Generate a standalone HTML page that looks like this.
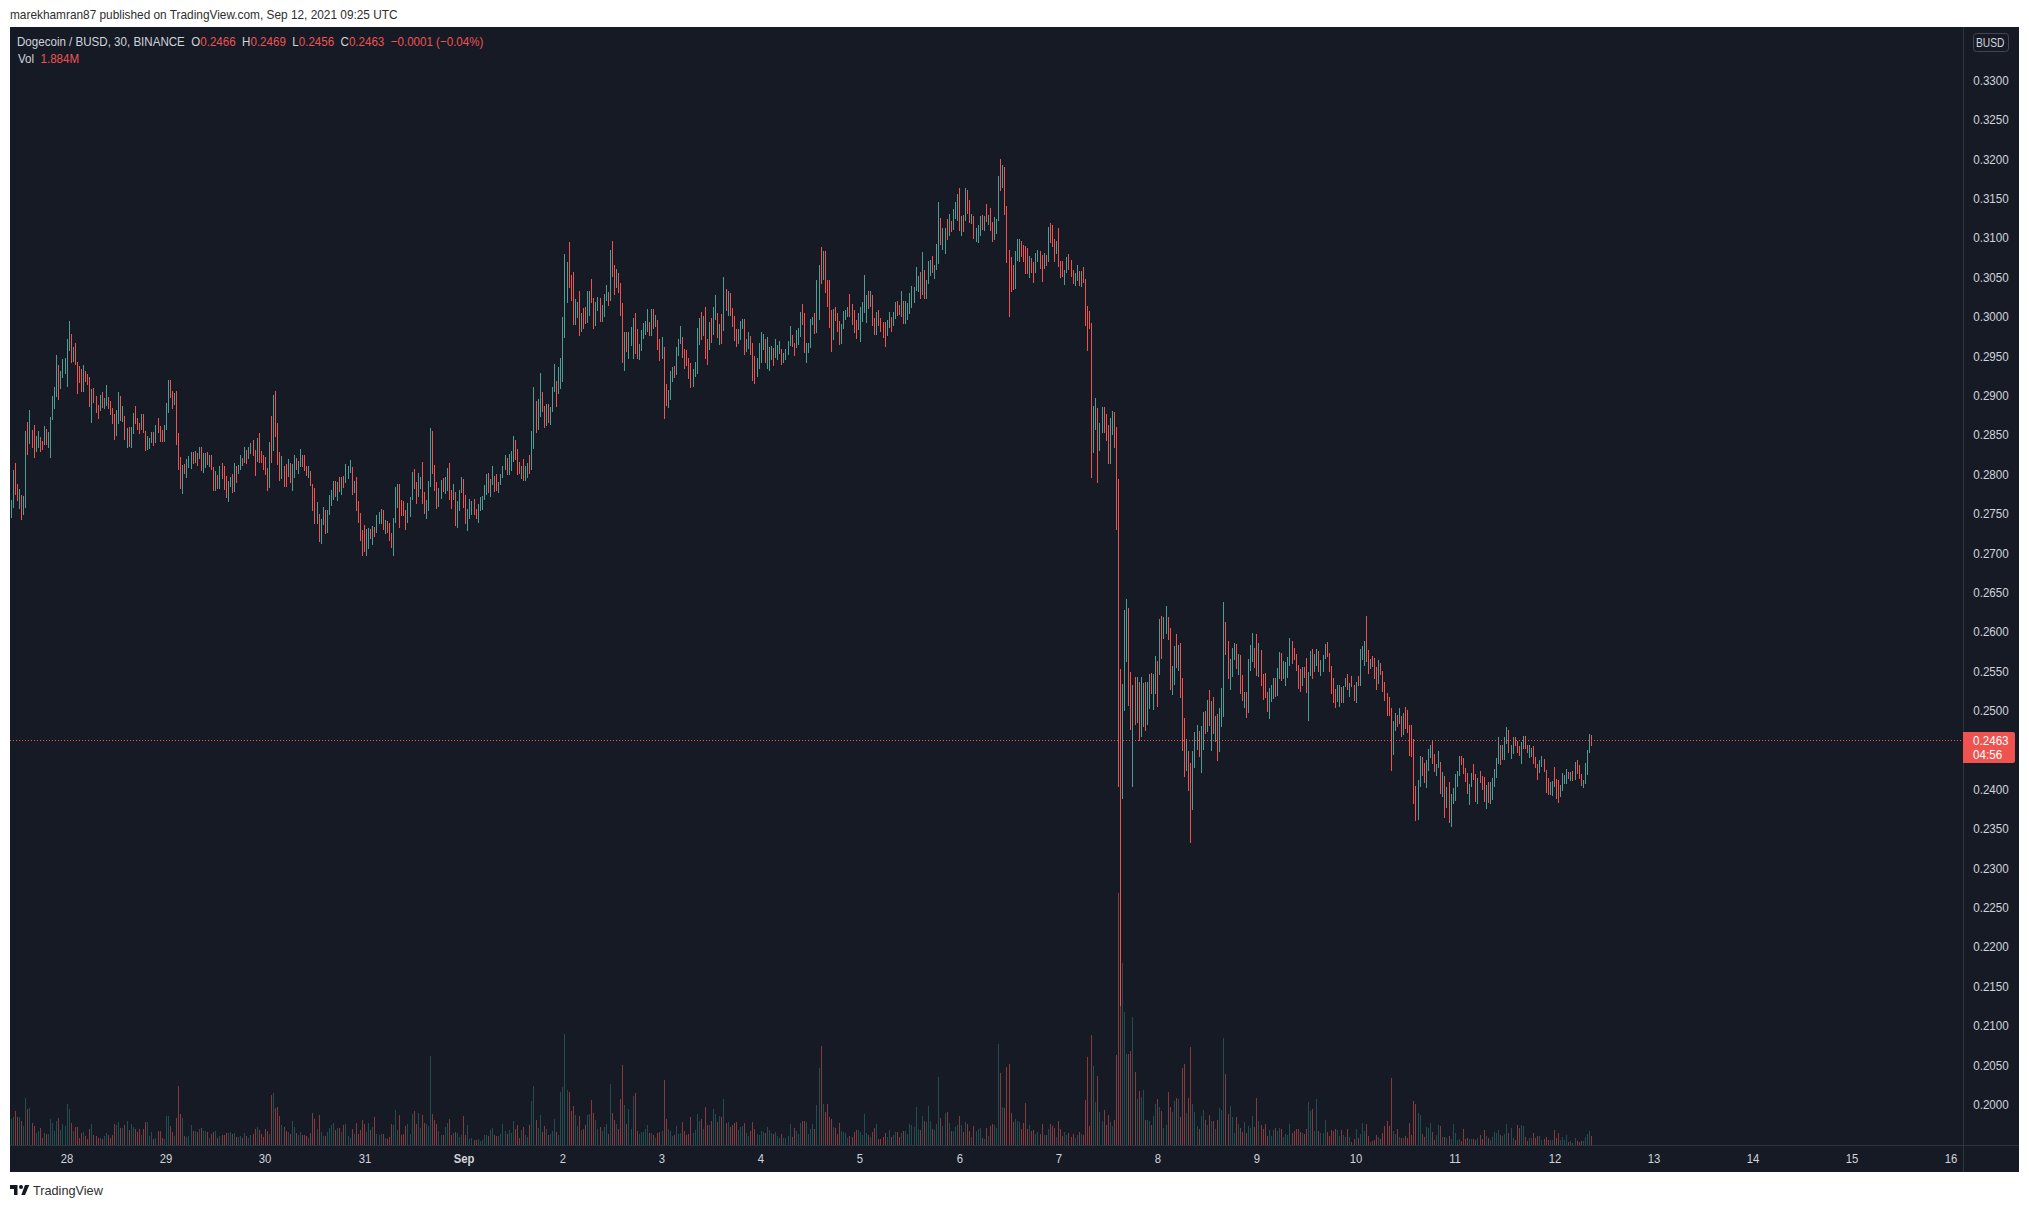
<!DOCTYPE html><html><head><meta charset="utf-8"><style>
html,body{margin:0;padding:0;width:2029px;height:1208px;overflow:hidden;background:#fff;}
body{position:relative;font-family:"Liberation Sans",sans-serif;}
.t{position:absolute;white-space:nowrap;line-height:1;}
</style></head><body>

<div class="t" id="hdr" style="left:10px;top:10px;font-size:11.85px;color:#2e2e2e;">marekhamran87 published on TradingView.com, Sep 12, 2021 09:25 UTC</div>
<svg style="position:absolute;left:0;top:0" width="2029" height="1208" viewBox="0 0 2029 1208" shape-rendering="crispEdges">
<rect x="10" y="27" width="2009" height="1145" fill="#161a25"/>
<rect x="1963" y="27" width="1" height="1145" fill="#2a3540"/>
<rect x="10" y="1145" width="2009" height="1" fill="#2a3540"/>
<path fill="#244d50" d="M11 1119h1v26h-1zM13 1117h1v28h-1zM19 1117h1v28h-1zM23 1126h1v19h-1zM25 1098h1v47h-1zM29 1108h1v37h-1zM36 1133h1v12h-1zM38 1131h1v14h-1zM44 1133h1v12h-1zM48 1134h1v11h-1zM50 1119h1v26h-1zM52 1123h1v22h-1zM54 1131h1v14h-1zM56 1121h1v24h-1zM60 1130h1v15h-1zM62 1124h1v21h-1zM65 1126h1v19h-1zM67 1104h1v41h-1zM69 1109h1v36h-1zM73 1131h1v14h-1zM83 1132h1v13h-1zM91 1124h1v21h-1zM100 1138h1v7h-1zM104 1136h1v9h-1zM106 1133h1v12h-1zM116 1125h1v20h-1zM118 1122h1v23h-1zM122 1128h1v17h-1zM127 1121h1v24h-1zM131 1124h1v21h-1zM133 1127h1v18h-1zM141 1135h1v10h-1zM147 1122h1v23h-1zM149 1136h1v9h-1zM151 1132h1v13h-1zM155 1138h1v7h-1zM164 1139h1v6h-1zM166 1116h1v29h-1zM168 1116h1v29h-1zM174 1136h1v9h-1zM182 1118h1v27h-1zM186 1137h1v8h-1zM188 1136h1v9h-1zM191 1125h1v20h-1zM195 1131h1v14h-1zM199 1129h1v16h-1zM203 1131h1v14h-1zM205 1131h1v14h-1zM209 1138h1v7h-1zM215 1131h1v14h-1zM219 1136h1v9h-1zM228 1133h1v12h-1zM230 1132h1v13h-1zM234 1133h1v12h-1zM238 1137h1v8h-1zM240 1136h1v9h-1zM244 1133h1v12h-1zM248 1138h1v7h-1zM250 1135h1v10h-1zM257 1127h1v18h-1zM269 1134h1v11h-1zM273 1093h1v52h-1zM281 1125h1v20h-1zM288 1132h1v13h-1zM292 1121h1v24h-1zM294 1127h1v18h-1zM298 1135h1v10h-1zM300 1132h1v13h-1zM308 1138h1v7h-1zM317 1129h1v16h-1zM321 1132h1v13h-1zM323 1136h1v9h-1zM327 1132h1v13h-1zM329 1128h1v17h-1zM331 1125h1v20h-1zM333 1123h1v22h-1zM337 1128h1v17h-1zM341 1132h1v13h-1zM345 1124h1v21h-1zM348 1136h1v9h-1zM350 1138h1v7h-1zM354 1134h1v11h-1zM366 1132h1v13h-1zM368 1123h1v22h-1zM372 1127h1v18h-1zM376 1134h1v11h-1zM379 1135h1v10h-1zM381 1134h1v11h-1zM385 1138h1v7h-1zM393 1125h1v20h-1zM395 1110h1v35h-1zM397 1130h1v15h-1zM407 1124h1v21h-1zM410 1134h1v11h-1zM412 1114h1v31h-1zM418 1113h1v32h-1zM420 1128h1v17h-1zM426 1124h1v21h-1zM428 1126h1v19h-1zM430 1056h1v89h-1zM438 1131h1v14h-1zM441 1135h1v10h-1zM445 1127h1v18h-1zM447 1123h1v22h-1zM453 1133h1v12h-1zM457 1133h1v12h-1zM459 1137h1v8h-1zM461 1135h1v10h-1zM467 1125h1v20h-1zM469 1139h1v6h-1zM471 1138h1v7h-1zM478 1139h1v6h-1zM480 1141h1v4h-1zM482 1140h1v5h-1zM484 1135h1v10h-1zM486 1135h1v10h-1zM490 1130h1v15h-1zM492 1128h1v17h-1zM498 1136h1v9h-1zM500 1134h1v11h-1zM502 1124h1v21h-1zM505 1131h1v14h-1zM509 1130h1v15h-1zM511 1133h1v12h-1zM513 1121h1v24h-1zM521 1130h1v15h-1zM525 1135h1v10h-1zM527 1137h1v8h-1zM531 1101h1v44h-1zM533 1086h1v59h-1zM538 1128h1v17h-1zM540 1115h1v30h-1zM546 1129h1v16h-1zM550 1134h1v11h-1zM552 1131h1v14h-1zM554 1119h1v26h-1zM558 1135h1v10h-1zM560 1092h1v53h-1zM562 1087h1v58h-1zM564 1034h1v111h-1zM567 1090h1v55h-1zM575 1115h1v30h-1zM577 1126h1v19h-1zM581 1130h1v15h-1zM587 1115h1v30h-1zM589 1114h1v31h-1zM595 1120h1v25h-1zM597 1129h1v16h-1zM602 1131h1v14h-1zM604 1127h1v18h-1zM606 1124h1v21h-1zM610 1084h1v61h-1zM616 1124h1v21h-1zM624 1105h1v40h-1zM628 1109h1v36h-1zM631 1129h1v16h-1zM633 1096h1v49h-1zM639 1134h1v11h-1zM641 1132h1v13h-1zM643 1132h1v13h-1zM645 1129h1v16h-1zM647 1125h1v20h-1zM651 1133h1v12h-1zM655 1138h1v7h-1zM662 1131h1v14h-1zM668 1129h1v16h-1zM670 1131h1v14h-1zM672 1136h1v9h-1zM676 1126h1v19h-1zM678 1134h1v11h-1zM680 1133h1v12h-1zM693 1133h1v12h-1zM695 1130h1v15h-1zM697 1114h1v31h-1zM699 1121h1v24h-1zM703 1129h1v16h-1zM709 1125h1v20h-1zM713 1109h1v36h-1zM715 1114h1v31h-1zM719 1116h1v29h-1zM723 1099h1v46h-1zM728 1122h1v23h-1zM738 1130h1v15h-1zM740 1127h1v18h-1zM742 1126h1v19h-1zM746 1133h1v12h-1zM748 1136h1v9h-1zM757 1134h1v11h-1zM759 1135h1v10h-1zM761 1131h1v14h-1zM763 1132h1v13h-1zM767 1127h1v18h-1zM769 1130h1v15h-1zM771 1133h1v12h-1zM775 1132h1v13h-1zM777 1136h1v9h-1zM779 1138h1v7h-1zM783 1138h1v7h-1zM785 1138h1v7h-1zM788 1136h1v9h-1zM790 1124h1v21h-1zM796 1131h1v14h-1zM798 1134h1v11h-1zM800 1123h1v22h-1zM806 1122h1v23h-1zM808 1134h1v11h-1zM810 1129h1v16h-1zM812 1124h1v21h-1zM816 1105h1v40h-1zM819 1068h1v77h-1zM823 1104h1v41h-1zM833 1127h1v18h-1zM841 1131h1v14h-1zM843 1132h1v13h-1zM845 1133h1v12h-1zM847 1138h1v7h-1zM858 1130h1v15h-1zM860 1132h1v13h-1zM862 1135h1v10h-1zM864 1114h1v31h-1zM866 1133h1v12h-1zM870 1137h1v8h-1zM876 1124h1v21h-1zM887 1137h1v8h-1zM889 1130h1v15h-1zM893 1135h1v10h-1zM895 1132h1v13h-1zM901 1133h1v12h-1zM905 1131h1v14h-1zM907 1134h1v11h-1zM909 1124h1v21h-1zM911 1125h1v20h-1zM914 1127h1v18h-1zM916 1107h1v38h-1zM918 1129h1v16h-1zM922 1116h1v29h-1zM926 1122h1v23h-1zM928 1106h1v39h-1zM930 1121h1v24h-1zM934 1130h1v15h-1zM936 1124h1v21h-1zM938 1077h1v68h-1zM942 1126h1v19h-1zM945 1113h1v32h-1zM949 1123h1v22h-1zM953 1131h1v14h-1zM955 1127h1v18h-1zM957 1125h1v20h-1zM961 1125h1v20h-1zM965 1122h1v23h-1zM971 1137h1v8h-1zM976 1131h1v14h-1zM978 1129h1v16h-1zM980 1128h1v17h-1zM984 1139h1v6h-1zM988 1136h1v9h-1zM994 1125h1v20h-1zM996 1128h1v17h-1zM998 1044h1v101h-1zM1002 1107h1v38h-1zM1015 1119h1v26h-1zM1017 1121h1v24h-1zM1019 1122h1v23h-1zM1029 1125h1v20h-1zM1035 1134h1v11h-1zM1037 1132h1v13h-1zM1044 1135h1v10h-1zM1048 1129h1v16h-1zM1056 1137h1v8h-1zM1064 1132h1v13h-1zM1066 1135h1v10h-1zM1075 1138h1v7h-1zM1077 1135h1v10h-1zM1081 1134h1v11h-1zM1093 1066h1v79h-1zM1095 1102h1v43h-1zM1099 1112h1v33h-1zM1102 1121h1v24h-1zM1110 1122h1v23h-1zM1112 1126h1v19h-1zM1122 963h1v182h-1zM1124 1012h1v133h-1zM1126 1054h1v91h-1zM1132 1017h1v128h-1zM1137 1099h1v46h-1zM1141 1097h1v48h-1zM1143 1090h1v55h-1zM1147 1120h1v25h-1zM1149 1121h1v24h-1zM1153 1116h1v29h-1zM1155 1104h1v41h-1zM1159 1107h1v38h-1zM1163 1128h1v17h-1zM1166 1125h1v20h-1zM1172 1112h1v33h-1zM1174 1101h1v44h-1zM1178 1099h1v46h-1zM1186 1113h1v32h-1zM1192 1104h1v41h-1zM1194 1112h1v33h-1zM1197 1126h1v19h-1zM1201 1116h1v29h-1zM1203 1110h1v35h-1zM1207 1125h1v20h-1zM1211 1121h1v24h-1zM1215 1129h1v16h-1zM1219 1108h1v37h-1zM1221 1110h1v35h-1zM1223 1038h1v107h-1zM1230 1106h1v39h-1zM1232 1117h1v28h-1zM1234 1133h1v12h-1zM1238 1124h1v21h-1zM1244 1122h1v23h-1zM1248 1126h1v19h-1zM1250 1128h1v17h-1zM1252 1116h1v29h-1zM1258 1121h1v24h-1zM1269 1130h1v15h-1zM1271 1136h1v9h-1zM1273 1130h1v15h-1zM1277 1131h1v14h-1zM1279 1128h1v17h-1zM1283 1137h1v8h-1zM1285 1134h1v11h-1zM1287 1135h1v10h-1zM1289 1124h1v21h-1zM1302 1133h1v12h-1zM1308 1102h1v43h-1zM1310 1111h1v34h-1zM1314 1131h1v14h-1zM1316 1099h1v46h-1zM1320 1133h1v12h-1zM1323 1133h1v12h-1zM1325 1120h1v25h-1zM1337 1130h1v15h-1zM1339 1136h1v9h-1zM1343 1135h1v10h-1zM1345 1137h1v8h-1zM1349 1137h1v8h-1zM1356 1129h1v16h-1zM1360 1134h1v11h-1zM1362 1123h1v22h-1zM1364 1131h1v14h-1zM1370 1142h1v3h-1zM1378 1137h1v8h-1zM1393 1131h1v14h-1zM1395 1134h1v11h-1zM1399 1137h1v8h-1zM1403 1138h1v7h-1zM1418 1113h1v32h-1zM1420 1115h1v30h-1zM1426 1127h1v18h-1zM1428 1128h1v17h-1zM1430 1123h1v22h-1zM1436 1135h1v10h-1zM1438 1125h1v20h-1zM1442 1137h1v8h-1zM1446 1138h1v7h-1zM1451 1139h1v6h-1zM1453 1124h1v21h-1zM1455 1133h1v12h-1zM1457 1140h1v5h-1zM1459 1139h1v6h-1zM1469 1139h1v6h-1zM1471 1139h1v6h-1zM1477 1138h1v7h-1zM1486 1136h1v9h-1zM1490 1140h1v5h-1zM1492 1137h1v8h-1zM1494 1132h1v13h-1zM1496 1133h1v12h-1zM1498 1130h1v15h-1zM1502 1136h1v9h-1zM1504 1134h1v11h-1zM1506 1124h1v21h-1zM1511 1128h1v17h-1zM1513 1138h1v7h-1zM1521 1125h1v20h-1zM1523 1126h1v19h-1zM1529 1138h1v7h-1zM1531 1138h1v7h-1zM1539 1136h1v9h-1zM1541 1140h1v5h-1zM1550 1140h1v5h-1zM1552 1140h1v5h-1zM1560 1140h1v5h-1zM1562 1137h1v8h-1zM1564 1140h1v5h-1zM1566 1135h1v10h-1zM1570 1141h1v4h-1zM1575 1138h1v7h-1zM1583 1141h1v4h-1zM1585 1137h1v8h-1zM1587 1134h1v11h-1zM1589 1131h1v14h-1z"/>
<path fill="#833b3f" d="M15 1111h1v34h-1zM17 1117h1v28h-1zM21 1121h1v24h-1zM27 1109h1v36h-1zM32 1123h1v22h-1zM34 1126h1v19h-1zM40 1128h1v17h-1zM42 1138h1v7h-1zM46 1134h1v11h-1zM58 1118h1v27h-1zM71 1123h1v22h-1zM75 1127h1v18h-1zM77 1127h1v18h-1zM79 1138h1v7h-1zM81 1133h1v12h-1zM85 1136h1v9h-1zM87 1139h1v6h-1zM89 1129h1v16h-1zM93 1135h1v10h-1zM96 1136h1v9h-1zM98 1138h1v7h-1zM102 1139h1v6h-1zM108 1135h1v10h-1zM110 1138h1v7h-1zM112 1135h1v10h-1zM114 1124h1v21h-1zM120 1128h1v17h-1zM124 1125h1v20h-1zM129 1130h1v15h-1zM135 1129h1v16h-1zM137 1132h1v13h-1zM139 1129h1v16h-1zM143 1129h1v16h-1zM145 1122h1v23h-1zM153 1139h1v6h-1zM158 1131h1v14h-1zM160 1131h1v14h-1zM162 1138h1v7h-1zM170 1126h1v19h-1zM172 1132h1v13h-1zM176 1118h1v27h-1zM178 1086h1v59h-1zM180 1114h1v31h-1zM184 1136h1v9h-1zM193 1131h1v14h-1zM197 1132h1v13h-1zM201 1128h1v17h-1zM207 1132h1v13h-1zM211 1134h1v11h-1zM213 1132h1v13h-1zM217 1138h1v7h-1zM222 1135h1v10h-1zM224 1135h1v10h-1zM226 1133h1v12h-1zM232 1134h1v11h-1zM236 1137h1v8h-1zM242 1138h1v7h-1zM246 1136h1v9h-1zM253 1134h1v11h-1zM255 1129h1v16h-1zM259 1130h1v15h-1zM261 1134h1v11h-1zM263 1137h1v8h-1zM265 1129h1v16h-1zM267 1131h1v14h-1zM271 1095h1v50h-1zM275 1108h1v37h-1zM277 1107h1v38h-1zM279 1116h1v29h-1zM284 1127h1v18h-1zM286 1131h1v14h-1zM290 1134h1v11h-1zM296 1133h1v12h-1zM302 1135h1v10h-1zM304 1135h1v10h-1zM306 1136h1v9h-1zM310 1133h1v12h-1zM312 1113h1v32h-1zM314 1119h1v26h-1zM319 1115h1v30h-1zM325 1136h1v9h-1zM335 1130h1v15h-1zM339 1128h1v17h-1zM343 1125h1v20h-1zM352 1129h1v16h-1zM356 1123h1v22h-1zM358 1134h1v11h-1zM360 1130h1v15h-1zM362 1120h1v25h-1zM364 1124h1v21h-1zM370 1130h1v15h-1zM374 1117h1v28h-1zM383 1134h1v11h-1zM387 1139h1v6h-1zM389 1137h1v8h-1zM391 1124h1v21h-1zM399 1115h1v30h-1zM401 1135h1v10h-1zM403 1134h1v11h-1zM405 1126h1v19h-1zM414 1111h1v34h-1zM416 1124h1v21h-1zM422 1115h1v30h-1zM424 1123h1v22h-1zM432 1114h1v31h-1zM434 1120h1v25h-1zM436 1124h1v21h-1zM443 1135h1v10h-1zM449 1119h1v26h-1zM451 1135h1v10h-1zM455 1132h1v13h-1zM463 1116h1v29h-1zM465 1135h1v10h-1zM474 1140h1v5h-1zM476 1140h1v5h-1zM488 1136h1v9h-1zM494 1135h1v10h-1zM496 1136h1v9h-1zM507 1134h1v11h-1zM515 1129h1v16h-1zM517 1125h1v20h-1zM519 1138h1v7h-1zM523 1127h1v18h-1zM529 1125h1v20h-1zM536 1120h1v25h-1zM542 1132h1v13h-1zM544 1126h1v19h-1zM548 1135h1v10h-1zM556 1132h1v13h-1zM569 1092h1v53h-1zM571 1111h1v34h-1zM573 1106h1v39h-1zM579 1116h1v29h-1zM583 1129h1v16h-1zM585 1125h1v20h-1zM591 1100h1v45h-1zM593 1113h1v32h-1zM600 1127h1v18h-1zM608 1134h1v11h-1zM612 1113h1v32h-1zM614 1120h1v25h-1zM618 1129h1v16h-1zM620 1099h1v46h-1zM622 1065h1v80h-1zM626 1124h1v21h-1zM635 1093h1v52h-1zM637 1131h1v14h-1zM649 1133h1v12h-1zM653 1135h1v10h-1zM657 1133h1v12h-1zM659 1132h1v13h-1zM664 1080h1v65h-1zM666 1119h1v26h-1zM674 1135h1v10h-1zM682 1122h1v23h-1zM684 1131h1v14h-1zM686 1135h1v10h-1zM688 1134h1v11h-1zM690 1117h1v28h-1zM701 1119h1v26h-1zM705 1107h1v38h-1zM707 1125h1v20h-1zM711 1121h1v24h-1zM717 1122h1v23h-1zM721 1117h1v28h-1zM726 1123h1v22h-1zM730 1127h1v18h-1zM732 1125h1v20h-1zM734 1123h1v22h-1zM736 1122h1v23h-1zM744 1123h1v22h-1zM750 1131h1v14h-1zM752 1122h1v23h-1zM754 1129h1v16h-1zM765 1133h1v12h-1zM773 1134h1v11h-1zM781 1134h1v11h-1zM792 1137h1v8h-1zM794 1128h1v17h-1zM802 1121h1v24h-1zM804 1121h1v24h-1zM814 1129h1v16h-1zM821 1046h1v99h-1zM825 1112h1v33h-1zM827 1104h1v41h-1zM829 1117h1v28h-1zM831 1119h1v26h-1zM835 1128h1v17h-1zM837 1134h1v11h-1zM839 1123h1v22h-1zM849 1136h1v9h-1zM852 1137h1v8h-1zM854 1132h1v13h-1zM856 1130h1v15h-1zM868 1135h1v10h-1zM872 1132h1v13h-1zM874 1128h1v17h-1zM878 1139h1v6h-1zM880 1139h1v6h-1zM883 1137h1v8h-1zM885 1133h1v12h-1zM891 1137h1v8h-1zM897 1132h1v13h-1zM899 1137h1v8h-1zM903 1131h1v14h-1zM920 1130h1v15h-1zM924 1121h1v24h-1zM932 1129h1v16h-1zM940 1118h1v27h-1zM947 1112h1v33h-1zM951 1131h1v14h-1zM959 1116h1v29h-1zM963 1132h1v13h-1zM967 1124h1v21h-1zM969 1131h1v14h-1zM973 1126h1v19h-1zM982 1138h1v7h-1zM986 1128h1v17h-1zM990 1126h1v19h-1zM992 1124h1v21h-1zM1000 1073h1v72h-1zM1004 1108h1v37h-1zM1006 1067h1v78h-1zM1009 1064h1v81h-1zM1011 1113h1v32h-1zM1013 1122h1v23h-1zM1021 1129h1v16h-1zM1023 1123h1v22h-1zM1025 1103h1v42h-1zM1027 1129h1v16h-1zM1031 1131h1v14h-1zM1033 1130h1v15h-1zM1040 1134h1v11h-1zM1042 1124h1v21h-1zM1046 1135h1v10h-1zM1050 1124h1v21h-1zM1052 1126h1v19h-1zM1054 1128h1v17h-1zM1058 1121h1v24h-1zM1060 1129h1v16h-1zM1062 1136h1v9h-1zM1068 1133h1v12h-1zM1071 1137h1v8h-1zM1073 1134h1v11h-1zM1079 1132h1v13h-1zM1083 1135h1v10h-1zM1085 1100h1v45h-1zM1087 1057h1v88h-1zM1089 1126h1v19h-1zM1091 1035h1v110h-1zM1097 1076h1v69h-1zM1104 1110h1v35h-1zM1106 1125h1v20h-1zM1108 1115h1v30h-1zM1114 1120h1v25h-1zM1116 1055h1v90h-1zM1118 893h1v252h-1zM1120 1000h1v145h-1zM1128 1054h1v91h-1zM1130 1051h1v94h-1zM1135 1072h1v73h-1zM1139 1091h1v54h-1zM1145 1120h1v25h-1zM1151 1125h1v20h-1zM1157 1099h1v46h-1zM1161 1111h1v34h-1zM1168 1092h1v53h-1zM1170 1107h1v38h-1zM1176 1098h1v47h-1zM1180 1117h1v28h-1zM1182 1068h1v77h-1zM1184 1064h1v81h-1zM1188 1098h1v47h-1zM1190 1047h1v98h-1zM1199 1129h1v16h-1zM1205 1120h1v25h-1zM1209 1115h1v30h-1zM1213 1121h1v24h-1zM1217 1120h1v25h-1zM1225 1074h1v71h-1zM1228 1114h1v31h-1zM1236 1117h1v28h-1zM1240 1128h1v17h-1zM1242 1132h1v13h-1zM1246 1133h1v12h-1zM1254 1127h1v18h-1zM1256 1098h1v47h-1zM1261 1125h1v20h-1zM1263 1129h1v16h-1zM1265 1124h1v21h-1zM1267 1136h1v9h-1zM1275 1128h1v17h-1zM1281 1129h1v16h-1zM1292 1133h1v12h-1zM1294 1131h1v14h-1zM1296 1129h1v16h-1zM1298 1129h1v16h-1zM1300 1132h1v13h-1zM1304 1134h1v11h-1zM1306 1129h1v16h-1zM1312 1109h1v36h-1zM1318 1131h1v14h-1zM1327 1132h1v13h-1zM1329 1136h1v9h-1zM1331 1130h1v15h-1zM1333 1131h1v14h-1zM1335 1129h1v16h-1zM1341 1130h1v15h-1zM1347 1129h1v16h-1zM1351 1142h1v3h-1zM1354 1139h1v6h-1zM1358 1138h1v7h-1zM1366 1124h1v21h-1zM1368 1136h1v9h-1zM1372 1141h1v4h-1zM1374 1140h1v5h-1zM1376 1135h1v10h-1zM1380 1139h1v6h-1zM1382 1133h1v12h-1zM1384 1126h1v19h-1zM1387 1121h1v24h-1zM1389 1126h1v19h-1zM1391 1078h1v67h-1zM1397 1129h1v16h-1zM1401 1138h1v7h-1zM1405 1136h1v9h-1zM1407 1138h1v7h-1zM1409 1123h1v22h-1zM1411 1135h1v10h-1zM1413 1101h1v44h-1zM1415 1104h1v41h-1zM1422 1134h1v11h-1zM1424 1137h1v8h-1zM1432 1132h1v13h-1zM1434 1140h1v5h-1zM1440 1126h1v19h-1zM1444 1137h1v8h-1zM1449 1136h1v9h-1zM1461 1141h1v4h-1zM1463 1129h1v16h-1zM1465 1139h1v6h-1zM1467 1138h1v7h-1zM1473 1139h1v6h-1zM1475 1140h1v5h-1zM1480 1135h1v10h-1zM1482 1139h1v6h-1zM1484 1130h1v15h-1zM1488 1138h1v7h-1zM1500 1135h1v10h-1zM1508 1133h1v12h-1zM1515 1140h1v5h-1zM1517 1125h1v20h-1zM1519 1128h1v17h-1zM1525 1137h1v8h-1zM1527 1141h1v4h-1zM1533 1133h1v12h-1zM1535 1138h1v7h-1zM1537 1136h1v9h-1zM1544 1139h1v6h-1zM1546 1137h1v8h-1zM1548 1140h1v5h-1zM1554 1130h1v15h-1zM1556 1138h1v7h-1zM1558 1133h1v12h-1zM1568 1142h1v3h-1zM1572 1143h1v2h-1zM1577 1141h1v4h-1zM1579 1142h1v3h-1zM1581 1141h1v4h-1zM1591 1136h1v9h-1z"/>
<path fill="#4f9c95" d="M11 500h1v18h-1zM13 470h1v38h-1zM19 489h1v20h-1zM23 496h1v19h-1zM25 431h1v77h-1zM29 410h1v34h-1zM36 436h1v16h-1zM38 431h1v17h-1zM44 426h1v19h-1zM48 432h1v16h-1zM50 417h1v41h-1zM52 396h1v24h-1zM54 387h1v22h-1zM56 355h1v42h-1zM60 371h1v18h-1zM62 359h1v19h-1zM65 358h1v16h-1zM67 339h1v48h-1zM69 321h1v30h-1zM73 347h1v15h-1zM83 365h1v27h-1zM91 389h1v34h-1zM100 395h1v16h-1zM104 398h1v11h-1zM106 385h1v21h-1zM116 410h1v26h-1zM118 392h1v32h-1zM122 406h1v16h-1zM127 428h1v20h-1zM131 427h1v21h-1zM133 413h1v21h-1zM141 414h1v16h-1zM147 436h1v14h-1zM149 438h1v11h-1zM151 432h1v11h-1zM155 425h1v18h-1zM164 425h1v17h-1zM166 403h1v27h-1zM168 380h1v33h-1zM174 393h1v12h-1zM182 465h1v29h-1zM186 459h1v19h-1zM188 456h1v12h-1zM191 452h1v17h-1zM195 451h1v12h-1zM199 447h1v12h-1zM203 453h1v20h-1zM205 453h1v15h-1zM209 455h1v12h-1zM215 471h1v20h-1zM219 466h1v23h-1zM228 481h1v21h-1zM230 477h1v10h-1zM234 463h1v29h-1zM238 465h1v9h-1zM240 455h1v15h-1zM244 447h1v16h-1zM248 447h1v12h-1zM250 443h1v11h-1zM257 438h1v24h-1zM269 442h1v46h-1zM273 395h1v56h-1zM281 456h1v23h-1zM288 459h1v18h-1zM292 464h1v27h-1zM294 455h1v23h-1zM298 461h1v13h-1zM300 449h1v18h-1zM308 466h1v12h-1zM317 502h1v22h-1zM321 519h1v25h-1zM323 507h1v18h-1zM327 510h1v23h-1zM329 495h1v20h-1zM331 490h1v16h-1zM333 481h1v19h-1zM337 482h1v19h-1zM341 477h1v18h-1zM345 464h1v19h-1zM348 466h1v13h-1zM350 460h1v13h-1zM354 481h1v12h-1zM366 529h1v27h-1zM368 528h1v21h-1zM372 526h1v19h-1zM376 515h1v18h-1zM379 512h1v12h-1zM381 509h1v15h-1zM385 520h1v14h-1zM393 518h1v38h-1zM395 487h1v36h-1zM397 484h1v24h-1zM407 503h1v20h-1zM410 497h1v20h-1zM412 472h1v28h-1zM418 473h1v24h-1zM420 477h1v12h-1zM426 500h1v19h-1zM428 481h1v30h-1zM430 428h1v59h-1zM438 488h1v19h-1zM441 480h1v19h-1zM445 477h1v17h-1zM447 468h1v23h-1zM453 484h1v16h-1zM457 501h1v27h-1zM459 490h1v21h-1zM461 477h1v16h-1zM467 509h1v22h-1zM469 499h1v20h-1zM471 501h1v14h-1zM478 504h1v19h-1zM480 497h1v14h-1zM482 496h1v14h-1zM484 485h1v15h-1zM486 474h1v21h-1zM490 479h1v18h-1zM492 466h1v19h-1zM498 482h1v11h-1zM500 474h1v11h-1zM502 466h1v12h-1zM505 455h1v15h-1zM509 454h1v21h-1zM511 451h1v20h-1zM513 436h1v26h-1zM521 466h1v13h-1zM525 466h1v15h-1zM527 463h1v15h-1zM531 431h1v39h-1zM533 387h1v62h-1zM538 399h1v31h-1zM540 373h1v44h-1zM546 404h1v22h-1zM550 407h1v18h-1zM552 387h1v25h-1zM554 364h1v28h-1zM558 367h1v27h-1zM560 358h1v31h-1zM562 317h1v65h-1zM564 254h1v84h-1zM567 262h1v41h-1zM575 299h1v26h-1zM577 302h1v16h-1zM581 313h1v19h-1zM587 291h1v32h-1zM589 291h1v25h-1zM595 302h1v24h-1zM597 297h1v14h-1zM602 305h1v17h-1zM604 294h1v23h-1zM606 285h1v16h-1zM610 250h1v51h-1zM616 269h1v19h-1zM624 332h1v39h-1zM628 332h1v27h-1zM631 327h1v19h-1zM633 318h1v41h-1zM639 344h1v16h-1zM641 330h1v21h-1zM643 323h1v16h-1zM645 321h1v14h-1zM647 309h1v23h-1zM651 309h1v27h-1zM655 315h1v12h-1zM662 337h1v22h-1zM668 390h1v18h-1zM670 371h1v29h-1zM672 367h1v15h-1zM676 347h1v28h-1zM678 339h1v17h-1zM680 326h1v18h-1zM693 369h1v18h-1zM695 362h1v15h-1zM697 328h1v46h-1zM699 318h1v27h-1zM703 316h1v20h-1zM709 322h1v28h-1zM713 307h1v28h-1zM715 295h1v25h-1zM719 324h1v21h-1zM723 277h1v54h-1zM728 291h1v25h-1zM738 329h1v15h-1zM740 321h1v19h-1zM742 319h1v10h-1zM746 339h1v13h-1zM748 332h1v17h-1zM757 358h1v19h-1zM759 343h1v26h-1zM761 332h1v31h-1zM763 334h1v16h-1zM767 337h1v32h-1zM769 347h1v24h-1zM771 346h1v14h-1zM775 339h1v19h-1zM777 345h1v15h-1zM779 341h1v13h-1zM783 353h1v10h-1zM785 349h1v11h-1zM788 341h1v14h-1zM790 326h1v20h-1zM796 330h1v18h-1zM798 328h1v17h-1zM800 312h1v25h-1zM806 343h1v20h-1zM808 343h1v10h-1zM810 319h1v29h-1zM812 317h1v8h-1zM816 280h1v53h-1zM819 265h1v55h-1zM823 251h1v29h-1zM833 309h1v31h-1zM841 324h1v20h-1zM843 311h1v18h-1zM845 310h1v10h-1zM847 307h1v10h-1zM858 313h1v17h-1zM860 307h1v35h-1zM862 302h1v20h-1zM864 275h1v38h-1zM866 295h1v28h-1zM870 291h1v16h-1zM876 312h1v23h-1zM887 320h1v16h-1zM889 312h1v16h-1zM893 312h1v14h-1zM895 302h1v17h-1zM901 291h1v26h-1zM905 301h1v23h-1zM907 303h1v17h-1zM909 293h1v21h-1zM911 286h1v22h-1zM914 287h1v16h-1zM916 267h1v24h-1zM918 276h1v16h-1zM922 252h1v43h-1zM926 280h1v19h-1zM928 261h1v23h-1zM930 260h1v16h-1zM934 265h1v14h-1zM936 244h1v26h-1zM938 202h1v62h-1zM942 228h1v22h-1zM945 228h1v26h-1zM949 214h1v22h-1zM953 209h1v21h-1zM955 202h1v17h-1zM957 194h1v27h-1zM961 216h1v20h-1zM965 188h1v33h-1zM971 214h1v10h-1zM976 228h1v14h-1zM978 225h1v18h-1zM980 216h1v20h-1zM984 216h1v15h-1zM988 215h1v10h-1zM994 217h1v23h-1zM996 219h1v15h-1zM998 176h1v45h-1zM1002 165h1v23h-1zM1015 251h1v38h-1zM1017 239h1v22h-1zM1019 239h1v23h-1zM1029 256h1v22h-1zM1035 253h1v20h-1zM1037 250h1v12h-1zM1044 253h1v16h-1zM1048 227h1v35h-1zM1056 241h1v13h-1zM1064 270h1v15h-1zM1066 257h1v16h-1zM1075 273h1v13h-1zM1077 265h1v16h-1zM1081 271h1v16h-1zM1093 406h1v47h-1zM1095 398h1v32h-1zM1099 423h1v28h-1zM1102 407h1v26h-1zM1110 418h1v46h-1zM1112 411h1v24h-1zM1122 684h1v115h-1zM1124 610h1v101h-1zM1126 599h1v63h-1zM1132 685h1v102h-1zM1137 677h1v46h-1zM1141 677h1v60h-1zM1143 683h1v44h-1zM1147 682h1v43h-1zM1149 674h1v35h-1zM1153 674h1v36h-1zM1155 656h1v38h-1zM1159 619h1v56h-1zM1163 617h1v22h-1zM1166 606h1v28h-1zM1172 666h1v29h-1zM1174 646h1v39h-1zM1178 645h1v26h-1zM1186 739h1v32h-1zM1192 751h1v59h-1zM1194 732h1v36h-1zM1197 725h1v25h-1zM1201 726h1v47h-1zM1203 712h1v38h-1zM1207 700h1v32h-1zM1211 701h1v50h-1zM1215 716h1v26h-1zM1219 708h1v44h-1zM1221 688h1v39h-1zM1223 602h1v115h-1zM1230 659h1v31h-1zM1232 648h1v29h-1zM1234 643h1v17h-1zM1238 654h1v21h-1zM1244 692h1v16h-1zM1248 659h1v54h-1zM1250 645h1v26h-1zM1252 633h1v29h-1zM1258 643h1v34h-1zM1269 688h1v31h-1zM1271 685h1v17h-1zM1273 678h1v21h-1zM1277 668h1v28h-1zM1279 652h1v27h-1zM1283 661h1v18h-1zM1285 662h1v24h-1zM1287 657h1v21h-1zM1289 638h1v28h-1zM1302 667h1v19h-1zM1308 672h1v49h-1zM1310 651h1v25h-1zM1314 654h1v18h-1zM1316 649h1v17h-1zM1320 660h1v16h-1zM1323 655h1v17h-1zM1325 644h1v15h-1zM1337 685h1v17h-1zM1339 685h1v22h-1zM1343 686h1v17h-1zM1345 678h1v9h-1zM1349 683h1v14h-1zM1356 682h1v21h-1zM1360 649h1v37h-1zM1362 646h1v14h-1zM1364 641h1v25h-1zM1370 659h1v10h-1zM1378 660h1v24h-1zM1393 721h1v34h-1zM1395 713h1v18h-1zM1399 708h1v16h-1zM1403 713h1v22h-1zM1418 780h1v40h-1zM1420 756h1v31h-1zM1426 760h1v28h-1zM1428 749h1v22h-1zM1430 745h1v13h-1zM1436 764h1v12h-1zM1438 751h1v17h-1zM1442 772h1v25h-1zM1446 787h1v21h-1zM1451 794h1v33h-1zM1453 788h1v16h-1zM1455 774h1v27h-1zM1457 771h1v16h-1zM1459 756h1v20h-1zM1469 784h1v21h-1zM1471 773h1v14h-1zM1477 778h1v26h-1zM1486 785h1v24h-1zM1490 782h1v22h-1zM1492 778h1v22h-1zM1494 769h1v18h-1zM1496 758h1v20h-1zM1498 737h1v27h-1zM1502 745h1v15h-1zM1504 737h1v23h-1zM1506 727h1v17h-1zM1511 745h1v14h-1zM1513 737h1v17h-1zM1521 742h1v22h-1zM1523 736h1v13h-1zM1529 745h1v13h-1zM1531 748h1v9h-1zM1539 760h1v13h-1zM1541 756h1v11h-1zM1550 782h1v13h-1zM1552 781h1v15h-1zM1560 785h1v12h-1zM1562 773h1v18h-1zM1564 775h1v9h-1zM1566 769h1v15h-1zM1570 772h1v9h-1zM1575 762h1v18h-1zM1583 780h1v8h-1zM1585 763h1v21h-1zM1587 750h1v25h-1zM1589 734h1v19h-1z"/>
<path fill="#ef5350" d="M15 463h1v32h-1zM17 484h1v17h-1zM21 495h1v25h-1zM27 422h1v33h-1zM32 430h1v18h-1zM34 425h1v33h-1zM40 437h1v15h-1zM42 441h1v9h-1zM46 429h1v16h-1zM58 365h1v35h-1zM71 334h1v29h-1zM75 343h1v22h-1zM77 362h1v32h-1zM79 366h1v17h-1zM81 369h1v23h-1zM85 371h1v11h-1zM87 374h1v11h-1zM89 377h1v30h-1zM93 388h1v15h-1zM96 396h1v17h-1zM98 405h1v14h-1zM102 392h1v16h-1zM108 397h1v12h-1zM110 401h1v14h-1zM112 408h1v16h-1zM114 414h1v26h-1zM120 396h1v25h-1zM124 416h1v24h-1zM129 427h1v20h-1zM135 406h1v18h-1zM137 418h1v12h-1zM139 423h1v11h-1zM143 414h1v19h-1zM145 431h1v20h-1zM153 432h1v14h-1zM158 418h1v15h-1zM160 426h1v16h-1zM162 430h1v12h-1zM170 380h1v18h-1zM172 391h1v18h-1zM176 391h1v54h-1zM178 433h1v37h-1zM180 457h1v32h-1zM184 464h1v10h-1zM193 452h1v12h-1zM197 453h1v13h-1zM201 447h1v24h-1zM207 452h1v13h-1zM211 455h1v15h-1zM213 467h1v24h-1zM217 475h1v14h-1zM222 463h1v16h-1zM224 466h1v24h-1zM226 476h1v22h-1zM232 474h1v19h-1zM236 466h1v17h-1zM242 458h1v8h-1zM246 450h1v14h-1zM253 440h1v16h-1zM255 450h1v26h-1zM259 433h1v30h-1zM261 451h1v12h-1zM263 455h1v15h-1zM265 457h1v18h-1zM267 468h1v23h-1zM271 416h1v47h-1zM275 391h1v46h-1zM277 423h1v42h-1zM279 452h1v29h-1zM284 466h1v21h-1zM286 464h1v23h-1zM290 463h1v20h-1zM296 458h1v12h-1zM302 455h1v12h-1zM304 455h1v16h-1zM306 466h1v10h-1zM310 471h1v15h-1zM312 484h1v27h-1zM314 488h1v36h-1zM319 514h1v28h-1zM325 510h1v24h-1zM335 481h1v16h-1zM339 477h1v15h-1zM343 476h1v12h-1zM352 467h1v28h-1zM356 477h1v34h-1zM358 501h1v22h-1zM360 513h1v28h-1zM362 530h1v26h-1zM364 525h1v27h-1zM370 529h1v10h-1zM374 527h1v10h-1zM383 510h1v20h-1zM387 521h1v12h-1zM389 523h1v18h-1zM391 533h1v15h-1zM399 484h1v44h-1zM401 500h1v16h-1zM403 501h1v15h-1zM405 510h1v20h-1zM414 469h1v20h-1zM416 482h1v22h-1zM422 462h1v42h-1zM424 492h1v22h-1zM432 431h1v43h-1zM434 465h1v26h-1zM436 482h1v27h-1zM443 478h1v14h-1zM449 463h1v37h-1zM451 490h1v19h-1zM455 492h1v34h-1zM463 479h1v29h-1zM465 495h1v29h-1zM474 499h1v16h-1zM476 509h1v10h-1zM488 473h1v20h-1zM494 476h1v16h-1zM496 474h1v17h-1zM507 458h1v17h-1zM515 440h1v20h-1zM517 449h1v26h-1zM519 462h1v12h-1zM523 459h1v22h-1zM529 455h1v19h-1zM536 401h1v32h-1zM542 392h1v20h-1zM544 406h1v22h-1zM548 404h1v19h-1zM556 381h1v26h-1zM569 242h1v46h-1zM571 275h1v26h-1zM573 272h1v53h-1zM579 291h1v45h-1zM583 308h1v21h-1zM585 307h1v17h-1zM591 279h1v24h-1zM593 298h1v31h-1zM600 298h1v24h-1zM608 292h1v14h-1zM612 241h1v36h-1zM614 265h1v30h-1zM618 273h1v20h-1zM620 283h1v33h-1zM622 303h1v60h-1zM626 332h1v20h-1zM635 313h1v41h-1zM637 329h1v30h-1zM649 322h1v14h-1zM653 309h1v20h-1zM657 320h1v30h-1zM659 339h1v22h-1zM664 347h1v72h-1zM666 384h1v22h-1zM674 366h1v12h-1zM682 337h1v21h-1zM684 349h1v20h-1zM686 350h1v16h-1zM688 358h1v21h-1zM690 363h1v25h-1zM701 312h1v28h-1zM705 307h1v52h-1zM707 339h1v26h-1zM711 318h1v25h-1zM717 313h1v25h-1zM721 314h1v30h-1zM726 289h1v22h-1zM730 293h1v23h-1zM732 308h1v19h-1zM734 316h1v25h-1zM736 329h1v18h-1zM744 319h1v36h-1zM750 336h1v19h-1zM752 343h1v38h-1zM754 356h1v28h-1zM765 339h1v24h-1zM773 348h1v18h-1zM781 349h1v16h-1zM792 335h1v12h-1zM794 343h1v13h-1zM802 304h1v21h-1zM804 313h1v40h-1zM814 313h1v21h-1zM821 247h1v37h-1zM825 251h1v42h-1zM827 280h1v27h-1zM829 280h1v48h-1zM831 310h1v42h-1zM835 307h1v14h-1zM837 313h1v19h-1zM839 321h1v24h-1zM849 294h1v23h-1zM852 304h1v21h-1zM854 310h1v23h-1zM856 320h1v19h-1zM868 291h1v18h-1zM872 295h1v31h-1zM874 318h1v17h-1zM878 310h1v16h-1zM880 318h1v14h-1zM883 322h1v16h-1zM885 322h1v25h-1zM891 317h1v15h-1zM897 301h1v15h-1zM899 305h1v10h-1zM903 301h1v23h-1zM920 272h1v27h-1zM924 270h1v29h-1zM932 256h1v17h-1zM940 218h1v27h-1zM947 219h1v21h-1zM951 221h1v11h-1zM959 188h1v43h-1zM963 215h1v17h-1zM967 190h1v24h-1zM969 200h1v23h-1zM973 216h1v23h-1zM982 215h1v15h-1zM986 204h1v18h-1zM990 208h1v23h-1zM992 222h1v20h-1zM1000 159h1v32h-1zM1004 167h1v48h-1zM1006 206h1v57h-1zM1009 250h1v67h-1zM1011 257h1v35h-1zM1013 265h1v25h-1zM1021 241h1v16h-1zM1023 245h1v17h-1zM1025 246h1v28h-1zM1027 248h1v26h-1zM1031 258h1v15h-1zM1033 262h1v21h-1zM1040 251h1v18h-1zM1042 255h1v27h-1zM1046 255h1v11h-1zM1050 223h1v20h-1zM1052 225h1v22h-1zM1054 239h1v23h-1zM1058 228h1v39h-1zM1060 261h1v17h-1zM1062 261h1v16h-1zM1068 254h1v16h-1zM1071 260h1v17h-1zM1073 270h1v14h-1zM1079 271h1v15h-1zM1083 267h1v16h-1zM1085 279h1v47h-1zM1087 306h1v45h-1zM1089 311h1v18h-1zM1091 323h1v155h-1zM1097 408h1v75h-1zM1104 407h1v26h-1zM1106 414h1v27h-1zM1108 425h1v39h-1zM1114 412h1v36h-1zM1116 427h1v103h-1zM1118 479h1v308h-1zM1120 669h1v337h-1zM1128 608h1v98h-1zM1130 672h1v58h-1zM1135 677h1v48h-1zM1139 682h1v59h-1zM1145 682h1v49h-1zM1151 673h1v21h-1zM1157 661h1v46h-1zM1161 616h1v43h-1zM1168 617h1v23h-1zM1170 628h1v62h-1zM1176 634h1v34h-1zM1180 643h1v55h-1zM1182 678h1v73h-1zM1184 718h1v59h-1zM1188 751h1v40h-1zM1190 763h1v80h-1zM1199 731h1v26h-1zM1205 711h1v23h-1zM1209 690h1v36h-1zM1213 697h1v37h-1zM1217 714h1v47h-1zM1225 622h1v33h-1zM1228 641h1v38h-1zM1236 644h1v25h-1zM1240 655h1v39h-1zM1242 675h1v26h-1zM1246 692h1v26h-1zM1254 648h1v20h-1zM1256 634h1v42h-1zM1261 650h1v36h-1zM1263 674h1v26h-1zM1265 673h1v25h-1zM1267 692h1v20h-1zM1275 678h1v19h-1zM1281 653h1v28h-1zM1292 641h1v23h-1zM1294 648h1v12h-1zM1296 654h1v17h-1zM1298 665h1v24h-1zM1300 669h1v23h-1zM1304 667h1v11h-1zM1306 658h1v35h-1zM1312 649h1v30h-1zM1318 651h1v21h-1zM1327 642h1v15h-1zM1329 653h1v19h-1zM1331 666h1v28h-1zM1333 678h1v25h-1zM1335 689h1v19h-1zM1341 687h1v16h-1zM1347 674h1v16h-1zM1351 676h1v11h-1zM1354 685h1v16h-1zM1358 676h1v10h-1zM1366 616h1v46h-1zM1368 650h1v24h-1zM1372 656h1v11h-1zM1374 658h1v21h-1zM1376 667h1v23h-1zM1380 663h1v12h-1zM1382 671h1v21h-1zM1384 682h1v19h-1zM1387 693h1v23h-1zM1389 697h1v19h-1zM1391 708h1v63h-1zM1397 715h1v12h-1zM1401 716h1v21h-1zM1405 707h1v22h-1zM1407 710h1v23h-1zM1409 725h1v31h-1zM1411 725h1v32h-1zM1413 739h1v65h-1zM1415 786h1v35h-1zM1422 757h1v19h-1zM1424 763h1v20h-1zM1432 740h1v24h-1zM1434 754h1v18h-1zM1440 762h1v32h-1zM1444 776h1v42h-1zM1449 782h1v41h-1zM1461 756h1v9h-1zM1463 758h1v16h-1zM1465 768h1v14h-1zM1467 773h1v21h-1zM1473 764h1v16h-1zM1475 774h1v28h-1zM1480 771h1v12h-1zM1482 776h1v14h-1zM1484 777h1v25h-1zM1488 782h1v21h-1zM1500 745h1v20h-1zM1508 730h1v23h-1zM1515 737h1v9h-1zM1517 741h1v12h-1zM1519 746h1v10h-1zM1525 736h1v13h-1zM1527 745h1v8h-1zM1533 746h1v18h-1zM1535 757h1v11h-1zM1537 764h1v16h-1zM1544 759h1v13h-1zM1546 770h1v23h-1zM1548 778h1v17h-1zM1554 767h1v20h-1zM1556 779h1v20h-1zM1558 780h1v23h-1zM1568 772h1v7h-1zM1572 771h1v10h-1zM1577 760h1v14h-1zM1579 765h1v14h-1zM1581 774h1v12h-1zM1591 735h1v11h-1z"/>
<line x1="10" y1="740.5" x2="1963" y2="740.5" stroke="#ef5350" stroke-width="1" stroke-dasharray="1 2" shape-rendering="auto"/>
<path d="M1963 732 H2013 Q2015 732 2015 734 V761 Q2015 763 2013 763 H1963 Z" fill="#ef5350" shape-rendering="auto"/>
<rect x="1973.5" y="33.5" width="35" height="18" rx="3" ry="3" fill="none" stroke="#434651" stroke-width="1" shape-rendering="auto"/>
</svg>
<div class="t pl" style="right:20px;top:73.8px;font-size:13px;color:#d1d4dc;transform:scaleX(0.895);transform-origin:100% 0;">0.3300</div>
<div class="t pl" style="right:20px;top:113.2px;font-size:13px;color:#d1d4dc;transform:scaleX(0.895);transform-origin:100% 0;">0.3250</div>
<div class="t pl" style="right:20px;top:152.6px;font-size:13px;color:#d1d4dc;transform:scaleX(0.895);transform-origin:100% 0;">0.3200</div>
<div class="t pl" style="right:20px;top:192.0px;font-size:13px;color:#d1d4dc;transform:scaleX(0.895);transform-origin:100% 0;">0.3150</div>
<div class="t pl" style="right:20px;top:231.4px;font-size:13px;color:#d1d4dc;transform:scaleX(0.895);transform-origin:100% 0;">0.3100</div>
<div class="t pl" style="right:20px;top:270.8px;font-size:13px;color:#d1d4dc;transform:scaleX(0.895);transform-origin:100% 0;">0.3050</div>
<div class="t pl" style="right:20px;top:310.1px;font-size:13px;color:#d1d4dc;transform:scaleX(0.895);transform-origin:100% 0;">0.3000</div>
<div class="t pl" style="right:20px;top:349.5px;font-size:13px;color:#d1d4dc;transform:scaleX(0.895);transform-origin:100% 0;">0.2950</div>
<div class="t pl" style="right:20px;top:388.9px;font-size:13px;color:#d1d4dc;transform:scaleX(0.895);transform-origin:100% 0;">0.2900</div>
<div class="t pl" style="right:20px;top:428.3px;font-size:13px;color:#d1d4dc;transform:scaleX(0.895);transform-origin:100% 0;">0.2850</div>
<div class="t pl" style="right:20px;top:467.7px;font-size:13px;color:#d1d4dc;transform:scaleX(0.895);transform-origin:100% 0;">0.2800</div>
<div class="t pl" style="right:20px;top:507.1px;font-size:13px;color:#d1d4dc;transform:scaleX(0.895);transform-origin:100% 0;">0.2750</div>
<div class="t pl" style="right:20px;top:546.5px;font-size:13px;color:#d1d4dc;transform:scaleX(0.895);transform-origin:100% 0;">0.2700</div>
<div class="t pl" style="right:20px;top:585.9px;font-size:13px;color:#d1d4dc;transform:scaleX(0.895);transform-origin:100% 0;">0.2650</div>
<div class="t pl" style="right:20px;top:625.3px;font-size:13px;color:#d1d4dc;transform:scaleX(0.895);transform-origin:100% 0;">0.2600</div>
<div class="t pl" style="right:20px;top:664.7px;font-size:13px;color:#d1d4dc;transform:scaleX(0.895);transform-origin:100% 0;">0.2550</div>
<div class="t pl" style="right:20px;top:704.0px;font-size:13px;color:#d1d4dc;transform:scaleX(0.895);transform-origin:100% 0;">0.2500</div>
<div class="t pl" style="right:20px;top:782.8px;font-size:13px;color:#d1d4dc;transform:scaleX(0.895);transform-origin:100% 0;">0.2400</div>
<div class="t pl" style="right:20px;top:822.2px;font-size:13px;color:#d1d4dc;transform:scaleX(0.895);transform-origin:100% 0;">0.2350</div>
<div class="t pl" style="right:20px;top:861.6px;font-size:13px;color:#d1d4dc;transform:scaleX(0.895);transform-origin:100% 0;">0.2300</div>
<div class="t pl" style="right:20px;top:901.0px;font-size:13px;color:#d1d4dc;transform:scaleX(0.895);transform-origin:100% 0;">0.2250</div>
<div class="t pl" style="right:20px;top:940.4px;font-size:13px;color:#d1d4dc;transform:scaleX(0.895);transform-origin:100% 0;">0.2200</div>
<div class="t pl" style="right:20px;top:979.8px;font-size:13px;color:#d1d4dc;transform:scaleX(0.895);transform-origin:100% 0;">0.2150</div>
<div class="t pl" style="right:20px;top:1019.2px;font-size:13px;color:#d1d4dc;transform:scaleX(0.895);transform-origin:100% 0;">0.2100</div>
<div class="t pl" style="right:20px;top:1058.6px;font-size:13px;color:#d1d4dc;transform:scaleX(0.895);transform-origin:100% 0;">0.2050</div>
<div class="t pl" style="right:20px;top:1097.9px;font-size:13px;color:#d1d4dc;transform:scaleX(0.895);transform-origin:100% 0;">0.2000</div>
<div class="t" style="left:1976px;top:37px;font-size:12.2px;color:#d1d4dc;transform:scaleX(0.84);transform-origin:0 0;">BUSD</div>
<div class="t" style="left:1973px;top:734.4px;font-size:13px;color:#fff;transform:scaleX(0.895);transform-origin:0 0;">0.2463</div>
<div class="t" style="left:1973px;top:748.4px;font-size:13px;color:#fff;transform:scaleX(0.895);transform-origin:0 0;">04:56</div>
<div class="t tl" style="left:17.0px;width:100px;text-align:center;top:1151.6px;font-size:13px;color:#d1d4dc;transform:scaleX(0.87);transform-origin:50% 0;">28</div>
<div class="t tl" style="left:116.2px;width:100px;text-align:center;top:1151.6px;font-size:13px;color:#d1d4dc;transform:scaleX(0.87);transform-origin:50% 0;">29</div>
<div class="t tl" style="left:215.3px;width:100px;text-align:center;top:1151.6px;font-size:13px;color:#d1d4dc;transform:scaleX(0.87);transform-origin:50% 0;">30</div>
<div class="t tl" style="left:314.5px;width:100px;text-align:center;top:1151.6px;font-size:13px;color:#d1d4dc;transform:scaleX(0.87);transform-origin:50% 0;">31</div>
<div class="t tl" style="left:413.7px;width:100px;text-align:center;top:1151.6px;font-size:13px;color:#d1d4dc;transform:scaleX(0.87);transform-origin:50% 0;font-weight:bold;">Sep</div>
<div class="t tl" style="left:512.9px;width:100px;text-align:center;top:1151.6px;font-size:13px;color:#d1d4dc;transform:scaleX(0.87);transform-origin:50% 0;">2</div>
<div class="t tl" style="left:612.0px;width:100px;text-align:center;top:1151.6px;font-size:13px;color:#d1d4dc;transform:scaleX(0.87);transform-origin:50% 0;">3</div>
<div class="t tl" style="left:711.2px;width:100px;text-align:center;top:1151.6px;font-size:13px;color:#d1d4dc;transform:scaleX(0.87);transform-origin:50% 0;">4</div>
<div class="t tl" style="left:810.4px;width:100px;text-align:center;top:1151.6px;font-size:13px;color:#d1d4dc;transform:scaleX(0.87);transform-origin:50% 0;">5</div>
<div class="t tl" style="left:909.5px;width:100px;text-align:center;top:1151.6px;font-size:13px;color:#d1d4dc;transform:scaleX(0.87);transform-origin:50% 0;">6</div>
<div class="t tl" style="left:1008.7px;width:100px;text-align:center;top:1151.6px;font-size:13px;color:#d1d4dc;transform:scaleX(0.87);transform-origin:50% 0;">7</div>
<div class="t tl" style="left:1107.9px;width:100px;text-align:center;top:1151.6px;font-size:13px;color:#d1d4dc;transform:scaleX(0.87);transform-origin:50% 0;">8</div>
<div class="t tl" style="left:1207.0px;width:100px;text-align:center;top:1151.6px;font-size:13px;color:#d1d4dc;transform:scaleX(0.87);transform-origin:50% 0;">9</div>
<div class="t tl" style="left:1306.2px;width:100px;text-align:center;top:1151.6px;font-size:13px;color:#d1d4dc;transform:scaleX(0.87);transform-origin:50% 0;">10</div>
<div class="t tl" style="left:1405.4px;width:100px;text-align:center;top:1151.6px;font-size:13px;color:#d1d4dc;transform:scaleX(0.87);transform-origin:50% 0;">11</div>
<div class="t tl" style="left:1504.5px;width:100px;text-align:center;top:1151.6px;font-size:13px;color:#d1d4dc;transform:scaleX(0.87);transform-origin:50% 0;">12</div>
<div class="t tl" style="left:1603.7px;width:100px;text-align:center;top:1151.6px;font-size:13px;color:#d1d4dc;transform:scaleX(0.87);transform-origin:50% 0;">13</div>
<div class="t tl" style="left:1702.9px;width:100px;text-align:center;top:1151.6px;font-size:13px;color:#d1d4dc;transform:scaleX(0.87);transform-origin:50% 0;">14</div>
<div class="t tl" style="left:1802.1px;width:100px;text-align:center;top:1151.6px;font-size:13px;color:#d1d4dc;transform:scaleX(0.87);transform-origin:50% 0;">15</div>
<div class="t tl" style="left:1901.2px;width:100px;text-align:center;top:1151.6px;font-size:13px;color:#d1d4dc;transform:scaleX(0.87);transform-origin:50% 0;">16</div>
<div class="t" style="left:16.5px;top:35px;font-size:13px;color:#d1d4dc;transform:scaleX(0.89);transform-origin:0 0;">Dogecoin / BUSD, 30, BINANCE&nbsp; O<span style="color:#ef5350">0.2466</span>&nbsp; H<span style="color:#ef5350">0.2469</span>&nbsp; L<span style="color:#ef5350">0.2456</span>&nbsp; C<span style="color:#ef5350">0.2463</span>&nbsp; <span style="color:#ef5350">&minus;0.0001 (&minus;0.04%)</span></div>
<div class="t" style="left:18px;top:52px;font-size:13px;color:#d1d4dc;transform:scaleX(0.89);transform-origin:0 0;">Vol&nbsp; <span style="color:#ef5350">1.884M</span></div>
<svg style="position:absolute;left:10px;top:1185px" width="20" height="11" viewBox="0 0 20 11"><path d="M0 0H7.5V10H4V4H0Z" fill="#131722"/><circle cx="11" cy="2" r="2" fill="#131722"/><path d="M15 0H19.3L15 10H11.3Z" fill="#131722"/></svg>
<div class="t" style="left:33px;top:1185px;font-size:12.7px;color:#2e2e2e;">TradingView</div>
</body></html>
